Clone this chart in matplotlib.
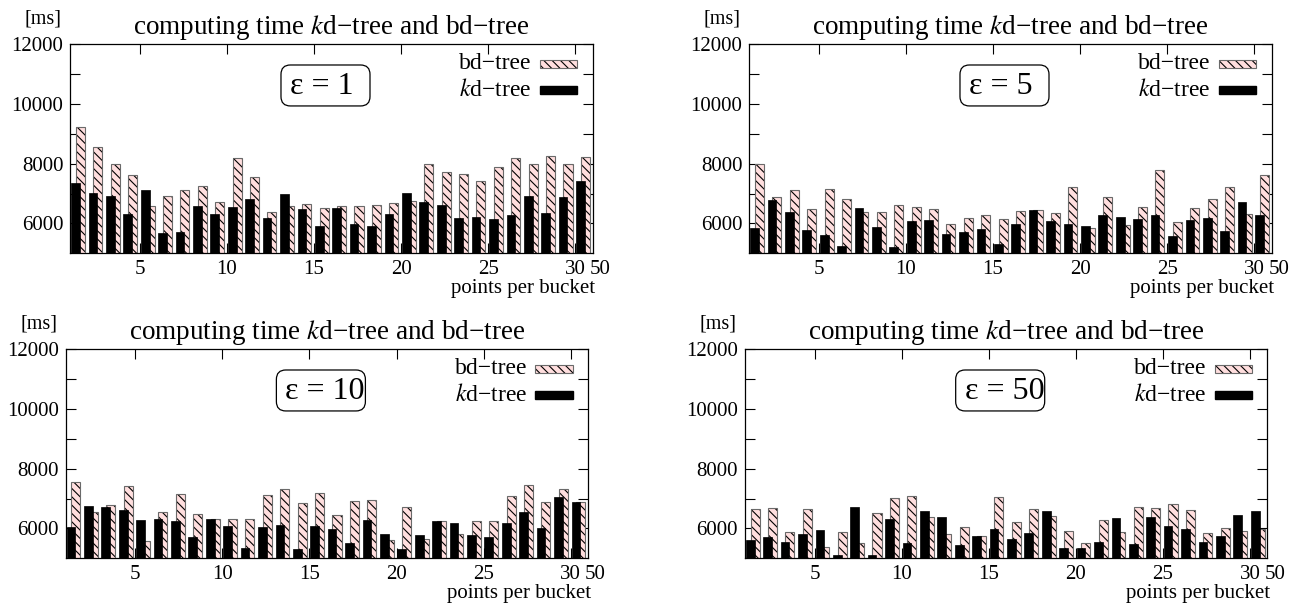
import matplotlib
matplotlib.use("Agg")
import matplotlib.pyplot as plt
from matplotlib.patches import Rectangle, FancyBboxPatch
import numpy as np

plt.rcParams['font.family'] = ['Liberation Serif', 'DejaVu Serif']
plt.rcParams['mathtext.fontset'] = 'stix'
plt.rcParams['hatch.color'] = 'black'
plt.rcParams['hatch.linewidth'] = 0.8
plt.rcParams['xtick.labelsize'] = 15
plt.rcParams['ytick.labelsize'] = 15

# points per bucket (positions 1..30)
buckets = np.arange(1, 31)
xtick_pos = [5, 10, 15, 20, 25, 30]
xtick_labels = ['5', '10', '15', '20', '25', '30']
ytick_pos = [6000, 7000, 8000, 9000, 10000, 11000, 12000]
ytick_labels = ['6000', '', '8000', '', '10000', '', '12000']

# eps = 1
kd_eps1 = [7367, 7021, 6909, 6329, 7132, 5692, 5715, 6574, 6306, 6541,
           6820, 6195, 6998, 6485, 5927, 6518, 5982, 5915, 6329, 7010,
           6719, 6630, 6195, 6228, 6161, 6295, 6909, 6340, 6898, 7411]
bd_eps1 = [9231, 8573, 7992, 7612, 6585, 6909, 7110, 7244, 6719, 8182,
           7546, 6384, 6574, 6641, 6518, 6574, 6585, 6608, 6675, 6742,
           7992, 7735, 7657, 7434, 7903, 8193, 8003, 8249, 7981, 8226]

# eps = 5
kd_eps5 = [5860, 6786, 6384, 5770, 5614, 5246, 6518, 5871, 5223, 6083,
           6116, 5659, 5703, 5826, 5324, 5994, 6451, 6083, 5982, 5927,
           6295, 6217, 6150, 6295, 5592, 6116, 6195, 5759, 6708, 6295]
bd_eps5 = [7981, 6887, 7121, 6474, 7144, 6809, 6384, 6384, 6608, 6563,
           6474, 5971, 6195, 6295, 6150, 6418, 6440, 6340, 7211, 5837,
           6898, 5938, 6541, 7802, 6038, 6507, 6820, 7211, 6306, 7612]

# eps = 10
kd_eps10 = [6061, 6742, 6730, 6619, 6284, 6329, 6239, 5726, 6317, 6083,
            5357, 6061, 6116, 5324, 6094, 5994, 5525, 6295, 5826, 5313,
            5770, 6239, 6172, 5793, 5715, 6172, 6563, 6027, 7054, 6887]
bd_eps10 = [7557, 6541, 6775, 7423, 5569, 6541, 7144, 6485, 6317, 6317,
            6317, 7132, 7311, 6864, 7188, 6463, 6909, 6943, 5603, 6708,
            5636, 6239, 5826, 6239, 6250, 7077, 7456, 6887, 7333, 6898]

# eps = 50
kd_eps50 = [5625, 5715, 5558, 5826, 5938, 5112, 6719, 5112, 6329, 5514,
            6597, 6384, 5452, 5748, 5982, 5642, 5843, 6585, 5357, 5357,
            5547, 6351, 5491, 6384, 6083, 5971, 5547, 5759, 6463, 6585]
bd_eps50 = [6652, 6686, 5882, 6652, 5368, 5893, 5502, 6530, 7021, 7099,
            6396, 5804, 6061, 5748, 7038, 6206, 6641, 6418, 5915, 5502,
            6273, 5893, 6731, 6686, 6809, 6608, 5837, 6016, 5904, 5982]

panels = [
    ("1", kd_eps1, bd_eps1),
    ("5", kd_eps5, bd_eps5),
    ("10", kd_eps10, bd_eps10),
    ("50", kd_eps50, bd_eps50),
]

W, H = 1298, 604
# top-left corner of each plot area, in pixels
boxes = [(70.3, 44.3), (749.3, 44.3), (65.7, 349.3), (745.0, 349.3)]
ax_w, ax_h = 522.4, 209.0

pink = '#ffdede'
edge_gray = '#6a6a6a'
hatch = '\\\\\\\\'

fig = plt.figure(figsize=(W / 100, H / 100), dpi=100)

for (eps, kd, bd), (left, top) in zip(panels, boxes):
    ax = fig.add_axes([left / W, 1 - (top + ax_h) / H, ax_w / W, ax_h / H])
    ax.set_axisbelow(True)

    # bd-tree bars: hatched fill, then gray outline
    ax.bar(buckets + 0.32, bd, width=0.52, align='edge', color=pink,
           edgecolor=None, linewidth=0, hatch=hatch, zorder=1)
    ax.bar(buckets + 0.32, bd, width=0.52, align='edge', fill=False,
           edgecolor=edge_gray, linewidth=0.8, zorder=1.1)
    # kd-tree bars in front
    ax.bar(buckets + 0.05, kd, width=0.5, align='edge', color='black',
           edgecolor='black', linewidth=0.5, zorder=2)

    ax.set_xlim(1, 31)
    ax.set_ylim(5000, 12000)
    ax.set_xticks(xtick_pos)
    ax.set_xticklabels(xtick_labels, fontsize=15)
    ax.set_yticks(ytick_pos)
    ax.set_yticklabels(ytick_labels, fontsize=15)
    ax.tick_params(direction='in', length=7, width=0.8, top=True, right=True,
                   labelsize=15, pad=5)
    for s in ax.spines.values():
        s.set_linewidth(0.9)

    ax.text(31.42, -0.033, '50', transform=ax.get_xaxis_transform(),
            ha='center', va='top', fontsize=15, clip_on=False)
    ax.text(1.005, -0.19, 'points per bucket', transform=ax.transAxes,
            ha='right', va='baseline', fontsize=15)
    ax.annotate('[ms]', xy=(0, 1), xycoords='axes fraction',
                xytext=(-27, 25), textcoords='offset pixels',
                ha='center', va='center', fontsize=14.5)
    ax.set_title('computing time $k$d\u2212tree and bd\u2212tree',
                 fontsize=19.5, pad=7.5)

    # legend drawn by hand
    ax.text(0.883, 0.906, 'bd\u2212tree', transform=ax.transAxes,
            ha='right', va='center', fontsize=17)
    ax.add_patch(Rectangle((0.899, 0.887), 0.0715, 0.038, transform=ax.transAxes,
                           facecolor=pink, edgecolor=None, linewidth=0,
                           hatch=hatch, zorder=3))
    ax.add_patch(Rectangle((0.899, 0.887), 0.0715, 0.038, transform=ax.transAxes,
                           fill=False, edgecolor=edge_gray, linewidth=0.8, zorder=3.1))
    ax.text(0.883, 0.781, '$k$d\u2212tree', transform=ax.transAxes,
            ha='right', va='center', fontsize=17)
    ax.add_patch(Rectangle((0.899, 0.761), 0.0715, 0.039, transform=ax.transAxes,
                           facecolor='black', edgecolor='black', zorder=3))

    # epsilon box
    ax.add_patch(FancyBboxPatch((0.4033, 0.705), 0.1704, 0.196,
                                boxstyle='round,pad=0,rounding_size=0.018',
                                mutation_aspect=ax_w / ax_h,
                                transform=ax.transAxes, facecolor='white',
                                edgecolor='black', linewidth=0.9, zorder=3))
    ax.text(0.4205, 0.8, '\u03b5 = ' + eps, transform=ax.transAxes,
            ha='left', va='center', fontsize=23, zorder=4)

fig.savefig('out.png', dpi=100)
